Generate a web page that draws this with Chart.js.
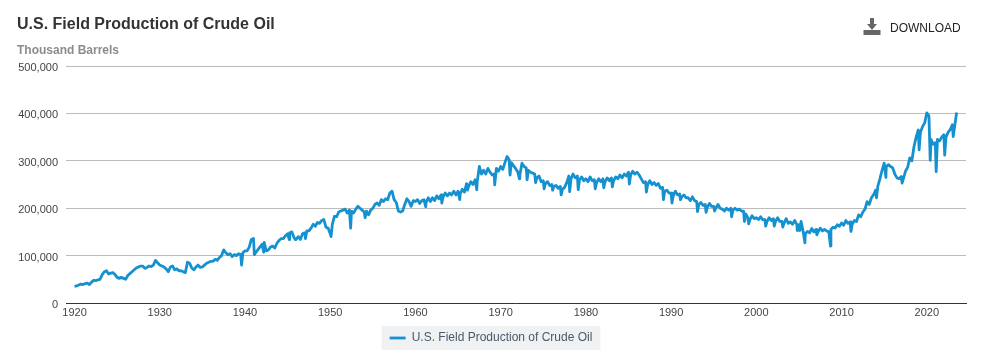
<!DOCTYPE html>
<html>
<head>
<meta charset="utf-8">
<title>U.S. Field Production of Crude Oil</title>
<script src="https://cdn.jsdelivr.net/npm/chart.js@4"></script>
<style>
  html, body { margin: 0; padding: 0; background: #fff; }
  #wrap { position: relative; width: 986px; height: 359px; overflow: hidden; font-family: "Liberation Sans", Arial, sans-serif; }
  #grafico { position: absolute; left: 0; top: 0; }
  .txt { position: absolute; white-space: nowrap; }
  #titulo { left: 17px; top: 15px; font-size: 16px; font-weight: bold; color: #333; }
  #sub { left: 17px; top: 43px; font-size: 12px; font-weight: bold; color: #8c8c8c; }
  #down { left: 890px; top: 21px; font-size: 12px; color: #222; }
  #icone { position: absolute; left: 863px; top: 18px; }
</style>
</head>
<body>
<div id="wrap">
  <canvas id="grafico" width="986" height="359"></canvas>
  <div class="txt" id="titulo">U.S. Field Production of Crude Oil</div>
  <div class="txt" id="sub">Thousand Barrels</div>
  <svg id="icone" width="18" height="17" viewBox="0 0 18 17">
    <path d="M7 0h4v6h3l-5 6-5-6h3z" fill="#666"/>
    <rect x="0.500" y="12" width="17" height="5" fill="#666"/>
  </svg>
  <div class="txt" id="down">DOWNLOAD</div>
</div>
<script>
// million barrels, four readings a year, one array per decade
var anos1920 = [35,36,38,40, 39,41,42,39, 44,48,47,49, 50,60,66,68, 61,63,64,60, 54,52,54,52, 50,58,62,66, 70,74,76,78, 78,73,75,78, 77,80,90,85];
var anos1930 = [80,78,76,72, 66,76,78,70, 72,68,68,66, 64,86,84,74, 70,76,80,75, 76,80,84,86, 88,88,92,90, 96,100,112,106, 102,104,98,102, 100,104,102,106];
var anos1940 = [110,110,118,134, 136,106,112,118, 124,128,110,112, 118,120,116,126, 132,136,136,142, 146,148,150,138, 134,140,134,146, 148,152,152,158, 166,162,170,168, 174,176,160,158];
var anos1950 = [146,166,183,182, 192,194,196,198, 190,196,194,190, 198,204,200,196, 192,194,186,196, 200,208,211,206, 218,214,220,218, 232,236,218,212, 194,192,194,208, 220,214,204,216];
var anos1960 = [214,218,210,216, 218,212,222,214, 222,216,226,220, 228,224,232,226, 232,228,236,228, 236,230,240,234, 252,246,256,250, 260,256,288,272, 280,272,284,276, 270,272,284,278];
var anos1970 = [288,282,296,309, 302,296,290,284, 277,270,295,288, 285,280,276,274, 272,264,268,256, 258,252,256,248, 250,246,248,242, 246,240,244,254, 268,262,272,264, 268,260,266,258];
var anos1980 = [262,256,266,258, 260,254,262,256, 262,256,264,258, 264,258,266,262, 270,264,272,268, 276,270,278,272, 276,270,262,254, 256,250,258,250, 254,248,252,242, 244,236,238,232];
var anos1990 = [232,226,236,228, 230,224,228,222, 222,216,224,216, 214,208,212,206, 208,202,210,204, 204,200,208,200, 198,194,200,196, 200,196,200,196, 198,194,194,188, 180,176,184,178];
var anos2000 = [180,176,182,176, 176,172,180,174, 178,172,180,172, 172,168,178,168, 171,166,174,166, 165,172,150,146, 151,148,157,150, 155,150,158,152, 155,152,150,155, 160,158,165,162];
var anos2010 = [169,164,174,168, 171,166,174,172, 186,182,192,198, 214,208,222,228, 238,246,262,280, 295,288,292,288, 285,272,264,262, 267,262,278,286, 306,300,330,350, 365,360,372,380];
var anos2020 = [401,395,345,335, 338,345,342,350, 355,350,360,366, 376,370,402];

// one-month drops read separately: year, then million barrels
var quedaAnos = [1939.6, 1941.1, 1942.2, 1945.2, 1945.9, 1947.1, 1950.1, 1952.4, 1954.1, 1961.2, 1963.1, 1965.2, 1966.1, 1967.2, 1969.3, 1971.1, 1972.2, 1973.1, 1974.1, 1975.1, 1976.1, 1977.1, 1978.1, 1979.1, 1981.1, 1982.1, 1983.1, 1985.1, 1987.1, 1989.1, 1990.1, 1991.1, 1993.1, 1994.1, 1995.1, 1997.1, 1998.6, 1999.1, 2001.1, 2002.1, 2003.1, 2004.8, 2005.1, 2005.7, 2007.1, 2008.7, 2011.1, 2014.1, 2015.2, 2017.1, 2019.1, 2020.4, 2021.1, 2022.1, 2023.1];
var quedaValores = [80, 102, 107, 134, 134, 136, 140, 158, 180, 203, 211, 218, 238, 239, 249, 270, 262, 260, 254, 241, 238, 228, 235, 239, 241, 243, 245, 251, 234, 218, 211, 218, 193, 191, 194, 182, 172, 167, 162, 162, 160, 153, 153, 127, 144, 120, 151, 222, 265, 253, 323, 301, 277, 312, 351];

var decadas = [anos1920, anos1930, anos1940, anos1950, anos1960, anos1970, anos1980, anos1990, anos2000, anos2010, anos2020];
var anoInicial = 1920;
var anosEixo = [1920, 1930, 1940, 1950, 1960, 1970, 1980, 1990, 2000, 2010, 2020];
var valoresEixo = [0, 100000, 200000, 300000, 400000, 500000];
var serieNome = "U.S. Field Production of Crude Oil";

var pontos = [];
decadas.forEach(function (lista, d) {
  lista.forEach(function (v, i) {
    pontos.push({ x: anoInicial + d * 10 + i / 4, y: v * 1000 });
  });
});
quedaAnos.forEach(function (a, i) {
  pontos.push({ x: a, y: quedaValores[i] * 1000 });
});
pontos.sort(function (a, b) { return a.x - b.x; });

// grey box behind the legend
var fundoLegenda = {
  id: "fundoLegenda",
  beforeDraw: function (chart) {
    var h = chart.legend.legendHitBoxes[0], c = chart.ctx;
    c.save();
    c.fillStyle = "#eff1f3";
    c.fillRect(h.left - 8, h.top + h.height / 2 - 12, h.width + 16, 24);
    c.restore();
  }
};

var ctx = document.getElementById("grafico").getContext("2d");
var chart = new Chart(ctx, {
  type: "line",
  plugins: [fundoLegenda],
  data: {
    datasets: [
      {
        label: serieNome,
        data: pontos,
        borderColor: "#1591cf",
        backgroundColor: "#1591cf",
        borderWidth: 2.8,
        borderJoinStyle: "round",
        pointRadius: 0,
        tension: 0,
      },
    ],
  },
  options: {
    responsive: false,
    animation: false,
    layout: { padding: { top: 66, left: 16, right: 20, bottom: 5 } },
    plugins: {
      tooltip: { enabled: false },
      legend: {
        position: "bottom",
        labels: {
          usePointStyle: true,
          pointStyle: "line",
          pointStyleWidth: 16,
          padding: 8,
          color: "#4a5a6a",
          font: { family: "'Liberation Sans', Arial", size: 12 },
        },
      },
    },
    scales: {
      x: {
        type: "linear",
        min: 1919,
        max: 2024.6,
        afterBuildTicks: function (scale) {
          scale.ticks = anosEixo.map(function (a) { return { value: a }; });
        },
        afterFit: function (scale) { scale.height = 21; },
        grid: { display: false, drawTicks: false },
        border: { color: "#333", width: 1 },
        ticks: {
          autoSkip: false,
          maxRotation: 0,
          padding: 3,
          color: "#444",
          font: { family: "'Liberation Sans', Arial", size: 11 },
          callback: function (v) { return String(v); },
        },
      },
      y: {
        min: 0,
        max: 500000,
        afterBuildTicks: function (scale) {
          scale.ticks = valoresEixo.map(function (a) { return { value: a }; });
        },
        afterFit: function (scale) { scale.width = 50; },
        grid: { color: "#bcbcbc", drawTicks: false },
        border: { display: false },
        ticks: {
          padding: 8,
          labelOffset: 2,
          color: "#444",
          font: { family: "'Liberation Sans', Arial", size: 11 },
          callback: function (v) { return v.toLocaleString("en-US"); },
        },
      },
    },
  },
});
</script>
</body>
</html>
